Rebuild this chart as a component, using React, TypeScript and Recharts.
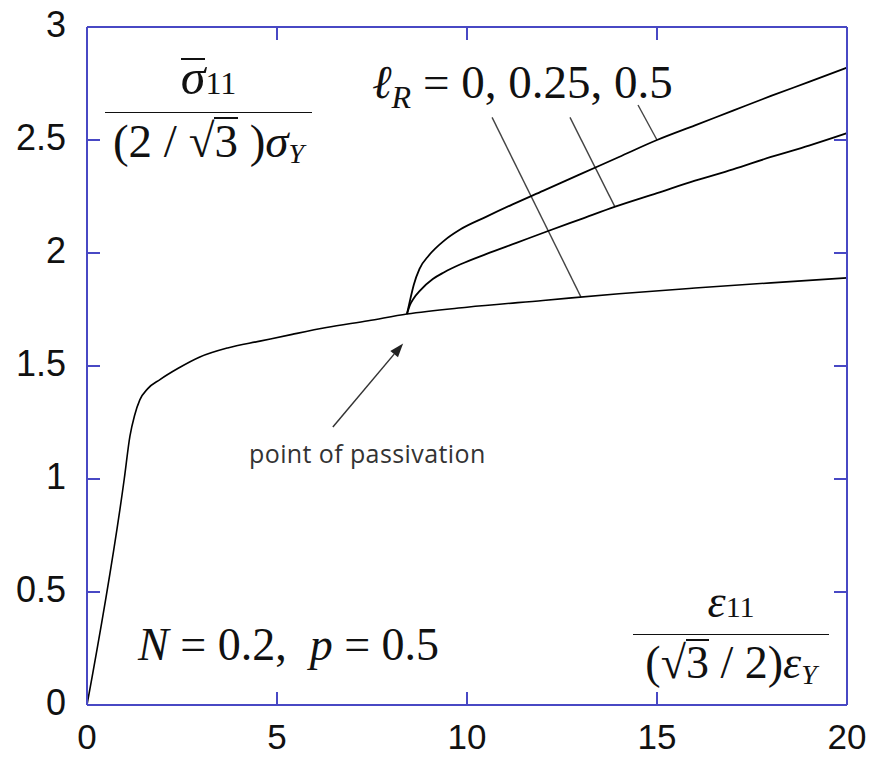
import React from 'react';
import { LineChart, Line, XAxis, YAxis, ReferenceLine } from 'recharts';

const FRAME = '#4848c4';
const INK = '#111';
const SERIF = '"Liberation Serif", "Times New Roman", serif';
const SANS = '"Liberation Sans", Arial, sans-serif';

// normalized strain ε11 / ((√3/2) εY)
const baseStrain = [0, 0.98, 1.13, 1.25, 1.39, 1.6, 1.92, 2.4, 2.97, 3.7, 4.55, 5.4, 6.3, 7.4, 8.42, 10, 12, 14, 16, 18, 20];
// normalized stress σ11 / ((2/√3) σY), ℓR = 0
const baseStress = [0, 1.0, 1.19, 1.28, 1.35, 1.4, 1.44, 1.49, 1.54, 1.58, 1.61, 1.64, 1.67, 1.70, 1.73, 1.76, 1.79, 1.82, 1.845, 1.868, 1.89];

// ℓR = 0.25 branch after passivation
const midStrain = [8.42, 8.5, 8.6, 8.77, 9.1, 9.4, 9.83, 10.5, 11.3, 12.1, 13, 13.9, 15, 16, 17, 18, 19, 20];
const midStress = [1.73, 1.77, 1.8, 1.835, 1.885, 1.915, 1.95, 1.995, 2.045, 2.095, 2.15, 2.205, 2.265, 2.32, 2.37, 2.425, 2.475, 2.53];

// ℓR = 0.5 branch after passivation
const topStrain = [8.42, 8.5, 8.6, 8.75, 9.0, 9.4, 9.83, 10.5, 11.2, 12, 13, 14, 15, 16, 17, 18, 19, 20];
const topStress = [1.73, 1.79, 1.86, 1.93, 1.99, 2.055, 2.105, 2.16, 2.215, 2.275, 2.35, 2.425, 2.5, 2.565, 2.63, 2.695, 2.757, 2.82];

const xTicks = [0, 5, 10, 15, 20];
const yTicks = [0, 0.5, 1, 1.5, 2, 2.5, 3];

// leader lines from the ℓR label to each curve, and the passivation arrow
const leaders = [
  [{ x: 10.66, y: 2.6 }, { x: 13.0, y: 1.805 }],
  [{ x: 12.71, y: 2.6 }, { x: 13.89, y: 2.205 }],
  [{ x: 14.5, y: 2.655 }, { x: 15.0, y: 2.5 }],
];
const arrow = [{ x: 6.47, y: 1.23 }, { x: 8.32, y: 1.6 }];

const toPoints = (xs: number[], ys: number[]) => xs.map((x, i) => ({ x, y: ys[i] }));
const baseData = toPoints(baseStrain, baseStress);
const midData = toPoints(midStrain, midStress);
const topData = toPoints(topStrain, topStress);

const TICK = 13;

const BottomTick = (p: any) => (
  <g>
    <line x1={p.x} y1={p.y} x2={p.x} y2={p.y - TICK} stroke={FRAME} strokeWidth={2} />
    <text x={p.x} y={p.y + 44} textAnchor="middle" fontFamily={SANS} fontSize={35} fill={INK}>
      {p.payload.value}
    </text>
  </g>
);
const TopTick = (p: any) => <line x1={p.x} y1={p.y} x2={p.x} y2={p.y + TICK} stroke={FRAME} strokeWidth={2} />;
const LeftTick = (p: any) => (
  <g>
    <line x1={p.x} y1={p.y} x2={p.x + TICK} y2={p.y} stroke={FRAME} strokeWidth={2} />
    <text x={p.x - 21} y={p.y + 10} textAnchor="end" fontFamily={SANS} fontSize={36} fill={INK}>
      {p.payload.value}
    </text>
  </g>
);
const RightTick = (p: any) => <line x1={p.x} y1={p.y} x2={p.x - TICK} y2={p.y} stroke={FRAME} strokeWidth={2} />;

const ArrowShape = (p: any) => {
  const { x1, y1, x2, y2 } = p;
  const a = Math.atan2(y2 - y1, x2 - x1);
  const L = 14;
  const w = 5;
  const bx = x2 - L * Math.cos(a);
  const by = y2 - L * Math.sin(a);
  const nx = -Math.sin(a) * w;
  const ny = Math.cos(a) * w;
  return (
    <g>
      <line x1={x1} y1={y1} x2={bx} y2={by} stroke="#333" strokeWidth={1.5} />
      <polygon points={`${x2},${y2} ${bx + nx},${by + ny} ${bx - nx},${by - ny}`} fill="#222" />
    </g>
  );
};

const Sqrt = ({ children }: { children: React.ReactNode }) => (
  <span>
    √<span style={{ display: 'inline-block', borderTop: '2px solid #111', lineHeight: 0.95 }}>{children}</span>
  </span>
);

const axisLine = { stroke: FRAME, strokeWidth: 2 };

export default function App() {
  return (
    <div style={{ position: 'absolute', left: 0, top: 0, width: 870, height: 758, background: '#fff' }}>
      <LineChart width={870} height={758} margin={{ top: 26, right: 22, bottom: 0, left: 0 }}>
        <XAxis xAxisId="b" type="number" dataKey="x" domain={[0, 20]} ticks={xTicks} interval={0} height={53}
          axisLine={axisLine} tickLine={false} tickSize={0} tickMargin={0} tick={BottomTick} />
        <XAxis xAxisId="t" orientation="top" type="number" dataKey="x" domain={[0, 20]} ticks={xTicks} interval={0} height={1}
          axisLine={axisLine} tickLine={false} tickSize={0} tickMargin={0} tick={TopTick} />
        <YAxis yAxisId="l" type="number" domain={[0, 3]} ticks={yTicks} interval={0} width={87}
          axisLine={axisLine} tickLine={false} tickSize={0} tickMargin={0} tick={LeftTick} />
        <YAxis yAxisId="r" orientation="right" type="number" domain={[0, 3]} ticks={yTicks} interval={0} width={1}
          axisLine={axisLine} tickLine={false} tickSize={0} tickMargin={0} tick={RightTick} />

        {leaders.map((seg, i) => (
          <ReferenceLine key={i} xAxisId="b" yAxisId="l" segment={seg} stroke="#444" strokeWidth={1.4} ifOverflow="visible" />
        ))}
        <ReferenceLine xAxisId="b" yAxisId="l" segment={arrow} shape={ArrowShape} ifOverflow="visible" />

        {/* hidden copy so the top/right frame axes get a domain */}
        <Line xAxisId="t" yAxisId="r" data={baseData} dataKey="y" stroke="none" dot={false} isAnimationActive={false} />

        <Line xAxisId="b" yAxisId="l" data={baseData} dataKey="y" type="monotone" stroke="#000" strokeWidth={1.6} dot={false} isAnimationActive={false} />
        <Line xAxisId="b" yAxisId="l" data={midData} dataKey="y" type="monotone" stroke="#000" strokeWidth={1.8} dot={false} isAnimationActive={false} />
        <Line xAxisId="b" yAxisId="l" data={topData} dataKey="y" type="monotone" stroke="#000" strokeWidth={1.8} dot={false} isAnimationActive={false} />
      </LineChart>

      {/* y-axis quantity */}
      <div style={{ position: 'absolute', left: 105, top: 48, width: 207, fontFamily: SERIF, color: INK, textAlign: 'center' }}>
        <div style={{ fontSize: 50, lineHeight: '58px' }}>
          <span style={{ display: 'inline-block', borderTop: '2px solid #111', lineHeight: '34px', fontStyle: 'italic' }}>σ</span>
          <span style={{ fontSize: 32 }}>11</span>
        </div>
        <div style={{ borderTop: '1.6px solid #111', fontSize: 47, lineHeight: '56px', whiteSpace: 'nowrap' }}>
          (2 / <Sqrt>3</Sqrt> )<i>σ</i><sub style={{ fontSize: 28, fontStyle: 'italic', verticalAlign: '-6px' }}>Y</sub>
        </div>
      </div>

      {/* ℓR label */}
      <div style={{ position: 'absolute', left: 372, top: 55, fontFamily: SERIF, fontSize: 47, color: INK, whiteSpace: 'nowrap' }}>
        <i>ℓ</i><sub style={{ fontSize: 32, fontStyle: 'italic', verticalAlign: '-10px' }}>R</sub> = 0, 0.25, 0.5
      </div>

      {/* passivation note */}
      <div style={{ position: 'absolute', left: 249, top: 436, fontFamily: '"Open Sans", Lato, sans-serif', fontSize: 25, letterSpacing: 0.4, color: '#333', whiteSpace: 'nowrap' }}>
        point of passivation
      </div>

      {/* material parameters */}
      <div style={{ position: 'absolute', left: 138, top: 618, fontFamily: SERIF, fontSize: 46, color: INK, whiteSpace: 'nowrap' }}>
        <i>N</i> = 0.2, &nbsp;<i>p</i> = 0.5
      </div>

      {/* x-axis quantity */}
      <div style={{ position: 'absolute', left: 633, top: 574, width: 196, fontFamily: SERIF, color: INK, textAlign: 'center' }}>
        <div style={{ fontSize: 46, lineHeight: '55px' }}>
          <i>ε</i><span style={{ fontSize: 30 }}>11</span>
        </div>
        <div style={{ borderTop: '1.6px solid #111', fontSize: 46, lineHeight: '56px', whiteSpace: 'nowrap' }}>
          (<Sqrt>3</Sqrt> / 2)<i>ε</i><sub style={{ fontSize: 28, fontStyle: 'italic', verticalAlign: '-6px' }}>Y</sub>
        </div>
      </div>
    </div>
  );
}
